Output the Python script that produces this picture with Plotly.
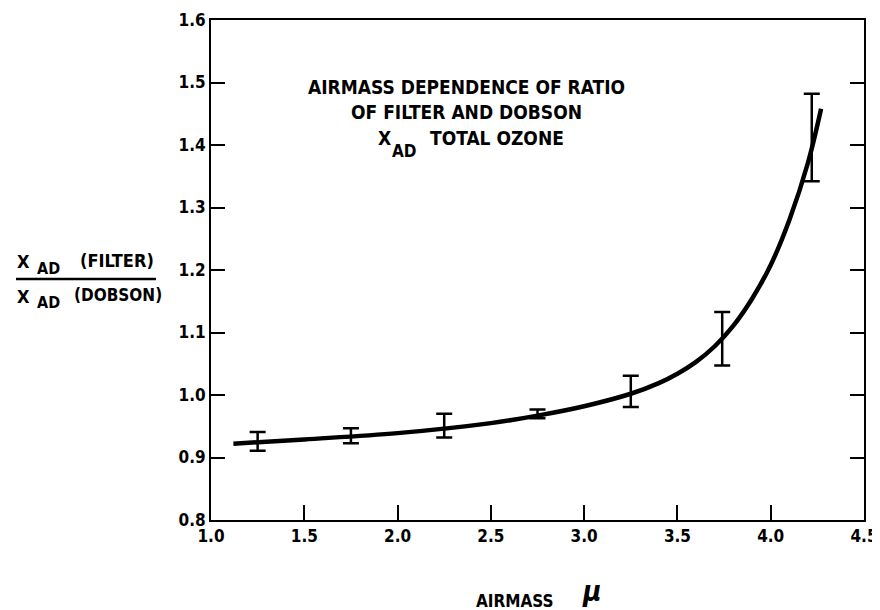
import plotly.graph_objects as go

# Measured error-bar points
airmass_pts = [1.25, 1.75, 2.25, 2.75, 3.25, 3.74, 4.22]
ratio_pts = [0.926, 0.935, 0.948, 0.970, 1.006, 1.090, 1.412]
err_plus = [0.015, 0.012, 0.022, 0.007, 0.025, 0.043, 0.070]
err_minus = [0.015, 0.012, 0.016, 0.007, 0.025, 0.043, 0.070]

# Smooth fitted curve
curve_x = [1.12, 1.5, 2.0, 2.5, 2.75, 3.0, 3.25, 3.4, 3.5, 3.6, 3.7, 3.8, 3.9, 4.0, 4.1, 4.2, 4.27]
curve_y = [0.922, 0.929, 0.939, 0.955, 0.967, 0.982, 1.002, 1.019, 1.034, 1.053, 1.078, 1.111, 1.154, 1.208, 1.280, 1.372, 1.458]

x_ticks = [1.0, 1.5, 2.0, 2.5, 3.0, 3.5, 4.0, 4.5]
y_ticks = [0.8, 0.9, 1.0, 1.1, 1.2, 1.3, 1.4, 1.5, 1.6]

FONT = "DejaVu Sans Condensed"

fig = go.Figure()
fig.add_trace(go.Scatter(
    x=curve_x, y=curve_y, mode="lines",
    line=dict(color="black", width=4.5, shape="spline", smoothing=1.0),
    hoverinfo="skip", showlegend=False))
fig.add_trace(go.Scatter(
    x=airmass_pts, y=ratio_pts, mode="markers",
    marker=dict(size=1, color="black"),
    error_y=dict(type="data", array=err_plus, arrayminus=err_minus,
                 color="black", thickness=2.5, width=8),
    showlegend=False))

OFF = 8  # page body margin
W, H = 872, 602
L = 211 - OFF
T = 20 - OFF
R = W - (864 - OFF)
B = H - (520 - OFF)
pw, ph = W - L - R, H - T - B

def px(x):
    return (x - OFF - L) / pw

def py(y):
    return (H - B - (y - OFF)) / ph

def label(text, x, y, size, xanchor="center", yanchor="middle"):
    fig.add_annotation(text=text, x=px(x), y=py(y), xref="paper", yref="paper",
                       showarrow=False, xanchor=xanchor, yanchor=yanchor,
                       font=dict(family=FONT, size=size, color="black", weight="bold"))

axis_font = dict(family=FONT, size=17, color="black", weight="bold")

fig.update_layout(
    width=W, height=H,
    margin=dict(l=L, r=R, t=T, b=B, autoexpand=False),
    paper_bgcolor="white", plot_bgcolor="white",
    font=dict(family=FONT, color="black"),
    xaxis=dict(range=[1.0, 4.5], tickvals=x_ticks,
               ticktext=[f"{v:.1f}" for v in x_ticks],
               ticks="inside", ticklen=15, tickwidth=2, tickcolor="black",
               showline=True, linewidth=2, linecolor="black", mirror=True,
               showgrid=False, zeroline=False, tickfont=axis_font),
    yaxis=dict(range=[0.8, 1.6], tickvals=y_ticks,
               ticktext=[f"{v:.1f}" for v in y_ticks],
               ticks="inside", ticklen=14, tickwidth=2, tickcolor="black",
               showline=True, linewidth=2, linecolor="black", mirror="ticks",
               showgrid=False, zeroline=False, tickfont=axis_font),
)

# Title block inside the plot
label("AIRMASS DEPENDENCE OF RATIO", 466, 87, 19)
label("OF FILTER AND DOBSON", 466, 112, 19)
label("X", 384, 138, 19)
label("AD", 404, 151, 17)
label("TOTAL OZONE", 428, 138, 19, xanchor="left")

# Y-axis label as a fraction
label("X", 23, 261, 18)
label("AD", 48, 268, 16)
label("(FILTER)", 78, 260, 18, xanchor="left")
fig.add_shape(type="line", xref="paper", yref="paper",
              x0=px(16), x1=px(156), y0=py(279), y1=py(279),
              line=dict(color="black", width=2.5))
label("X", 23, 296, 18)
label("AD", 48, 302, 16)
label("(DOBSON)", 72, 295, 17, xanchor="left")

# X-axis label
label("AIRMASS", 515, 601, 17)
fig.add_annotation(text="<i>μ</i>", x=px(592), y=py(610), xref="paper", yref="paper",
                   showarrow=False, xanchor="center", yanchor="bottom",
                   font=dict(family=FONT, size=28, color="black", weight="bold"))

fig.write_html("out.html")
